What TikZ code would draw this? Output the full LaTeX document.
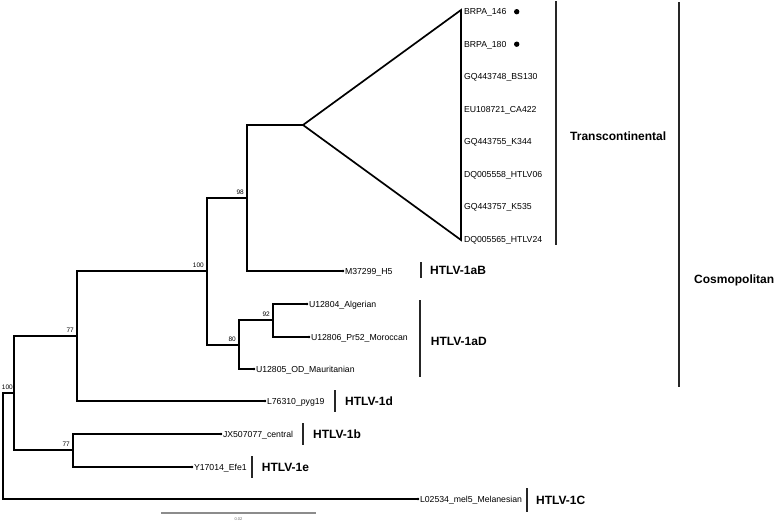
\documentclass[tikz,border=0pt]{standalone}
\usepackage{fontspec}
\setmainfont{Liberation Sans}
\begin{document}
\begin{tikzpicture}[x=1pt,y=-1pt,
  br/.style={line width=1.7pt, line cap=rect},
  tiplab/.style={anchor=west, inner sep=0pt, xshift=1.8pt, text height=6.2pt, text depth=0pt, font=\fontsize{8.7}{10}\selectfont},
  boot/.style={anchor=south east, inner sep=0pt, xshift=-3pt, yshift=3pt, font=\fontsize{6.5}{7}\selectfont},
  grp/.style={anchor=west, inner sep=0pt, text height=8.6pt, text depth=0pt, font=\fontsize{12}{14}\selectfont\bfseries},
  gbar/.style={line width=1.8pt, black!85},
  tipdot/.style={fill, black}
]
\useasboundingbox (0,0) rectangle (778,522);

% internal nodes
\coordinate (root) at (3,446);
\coordinate (A) at (14,393);
\coordinate (B) at (77,336);
\coordinate (E) at (73,450);
\coordinate (C) at (207,271);
\coordinate (N98) at (247,198);
\coordinate (N80) at (239,345);
\coordinate (N92) at (273,320);
\coordinate (apex) at (303,125);
\coordinate (ttop) at (461,10);
\coordinate (tbot) at (461,240);

% tips
\coordinate (tM) at (343,271);
\coordinate (t04) at (307,304);
\coordinate (t06) at (309,337);
\coordinate (t05) at (254,369);
\coordinate (tL) at (265,401);
\coordinate (tJX) at (221,434);
\coordinate (tY) at (192,467);
\coordinate (tMel) at (418,499);

% branches
\draw[br] (root) |- (A);
\draw[br] (root) |- (tMel);
\draw[br] (A) |- (B);
\draw[br] (A) |- (E);
\draw[br] (B) |- (C);
\draw[br] (B) |- (tL);
\draw[br] (C) |- (N98);
\draw[br] (C) |- (N80);
\draw[br] (N98) |- (apex);
\draw[br] (N98) |- (tM);
\draw[br] (N80) |- (N92);
\draw[br] (N80) |- (t05);
\draw[br] (N92) |- (t04);
\draw[br] (N92) |- (t06);
\draw[br] (E) |- (tJX);
\draw[br] (E) |- (tY);
\draw[br, line join=miter] (ttop) -- (apex) -- (tbot) -- cycle;

% tip dots
\foreach \t in {tM,t04,t06,t05,tL,tJX,tY,tMel}
  \fill[tipdot] (\t) circle (1.3pt);

% tip labels
\node[tiplab] (lM) at (tM) {M37299\_H5};
\node[tiplab] (l04) at (t04) {U12804\_Algerian};
\node[tiplab] (l06) at (t06) {U12806\_Pr52\_Moroccan};
\node[tiplab] (l05) at (t05) {U12805\_OD\_Mauritanian};
\node[tiplab] (lL) at (tL) {L76310\_pyg19};
\node[tiplab] (lJX) at (tJX) {JX507077\_central};
\node[tiplab] (lY) at (tY) {Y17014\_Efe1};
\node[tiplab] (lMel) at (tMel) {L02534\_mel5\_Melanesian};

% collapsed clade labels
\foreach \n/\lab [count=\i from 0] in {a/BRPA\_146, b/BRPA\_180, c/GQ443748\_BS130, d/EU108721\_CA422, e/GQ443755\_K344, f/DQ005558\_HTLV06, g/GQ443757\_K535, h/DQ005565\_HTLV24}
  \node[tiplab, xshift=-0.5pt] (tc\n) at (462.5,{11.7+32.5*\i}) {\lab};
\fill (516.7,11.7) circle (2.7pt);
\fill (516.7,44.2) circle (2.7pt);

% bootstrap values
\node[boot] (b1) at (C) {100};
\node[boot] (b2) at (N98) {98};
\node[boot] (b3) at (N80) {80};
\node[boot] (b4) at (N92) {92};
\node[boot] (b5) at (B) {77};
\node[boot] (b6) at (E) {77};
\node[boot, xshift=2pt] (b7) at (A) {100};

% group bars and labels
\draw[gbar] (556,1) -- (556,245);
\node[grp] (gT) at (570,136) {Transcontinental};
\draw[gbar] (679,2) -- (679,387);
\node[grp] (gC) at (694,279) {Cosmopolitan};
\draw[gbar] (421,262) -- (421,278);
\node[grp] (gaB) at (430,270) {HTLV-1aB};
\draw[gbar] (420,300) -- (420,377);
\node[grp] (gaD) at (430.7,340.7) {HTLV-1aD};
\draw[gbar] (335,390) -- (335,412);
\node[grp] (gd) at (345,401) {HTLV-1d};
\draw[gbar] (303,423) -- (303,445);
\node[grp] (gb) at (313,434) {HTLV-1b};
\draw[gbar] (252,456) -- (252,478);
\node[grp] (ge) at (261.7,467) {HTLV-1e};
\draw[gbar] (527,488) -- (527,512);
\node[grp] (g1C) at (536,500) {HTLV-1C};

% scale bar
\coordinate (s1) at (161,513);
\coordinate (s2) at (316,513);
\draw[line width=1.3pt, black!45] (s1) -- (s2);
\node[inner sep=0pt, font=\fontsize{4}{5}\selectfont, black!60] (sl) at (238.4,519) {0.02};
\end{tikzpicture}
\end{document}
